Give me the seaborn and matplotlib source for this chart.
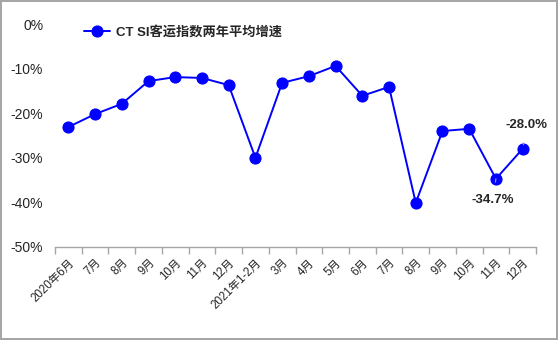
import matplotlib
matplotlib.use("Agg")
import matplotlib.pyplot as plt
import seaborn as sns
import pandas as pd
import numpy as np

months = ["2020年6月", "7月", "8月", "9月", "10月", "11月", "12月", "2021年1-2月",
          "3月", "4月", "5月", "6月", "7月", "8月", "9月", "10月", "11月", "12月"]
values = [-23.1, -20.2, -17.9, -12.8, -11.9, -12.1, -13.7, -30.0,
          -13.2, -11.7, -9.4, -16.1, -14.1, -40.1, -24.0, -23.5, -34.7, -28.0]
series_name = "CT SI客运指数两年平均增速"
ytick_vals = [0, -10, -20, -30, -40, -50]

sns.set_theme(style="white")
plt.rcParams["font.family"] = ["Liberation Sans", "Noto Sans CJK SC", "DejaVu Sans"]

df = pd.DataFrame({"x": np.arange(len(months)), "v": [v / 100 for v in values]})

fig = plt.figure(figsize=(5.58, 3.40), dpi=100, edgecolor="#a6a6a6", linewidth=1.5)
ax = fig.add_axes([55 / 558, 1 - 247 / 340, (536 - 55) / 558, (247 - 24) / 340])

sns.lineplot(data=df, x="x", y="v", ax=ax, color="#0000FF", marker="o",
             markersize=8, markeredgecolor="#0000FF", linewidth=1.4,
             label=series_name)

ax.set_xlim(-0.5, len(months) - 0.5)
ax.set_ylim(-0.5, 0)
ax.set_yticks([t / 100 for t in ytick_vals])
ax.set_yticklabels([f"{t}%" for t in ytick_vals], fontsize=10)
ax.set_xticks(np.arange(len(months)))
ax.set_xticklabels(months, rotation=45, ha="right", rotation_mode="anchor", fontsize=8.3)
ax.set_xticks(np.arange(len(months) + 1) - 0.5, minor=True)
ax.tick_params(axis="x", which="major", length=0, pad=7)
ax.tick_params(axis="x", which="minor", length=5, color="#a6a6a6", width=1, direction="out", bottom=True)
ax.tick_params(axis="y", length=0, pad=8.5)
ax.set_xlabel("")
ax.set_ylabel("")
for s in ["top", "right", "left"]:
    ax.spines[s].set_visible(False)
ax.spines["bottom"].set_color("#a6a6a6")
ax.spines["bottom"].set_linewidth(1)
ax.grid(False)

leg = ax.legend(loc="upper left", bbox_to_anchor=(72 / 558, 1 - 14 / 340),
                bbox_transform=fig.transFigure, frameon=False,
                prop={"size": 9.5, "weight": "bold"}, handlelength=2.0,
                handletextpad=0.4)

ax.annotate("-28.0%", xy=(17, -0.28), xytext=(3, 17), textcoords="offset points",
            ha="center", va="center", fontsize=9.5, fontweight="bold",
            arrowprops=dict(arrowstyle="-", color="#a6a6a6", lw=0.8, shrinkA=6, shrinkB=3))
ax.annotate("-34.7%", xy=(16, -0.347), xytext=(-2, -15), textcoords="offset points",
            ha="center", va="center", fontsize=9.5, fontweight="bold",
            arrowprops=dict(arrowstyle="-", color="#a6a6a6", lw=0.8, shrinkA=6, shrinkB=3))

fig.savefig("out.png", dpi=100)
